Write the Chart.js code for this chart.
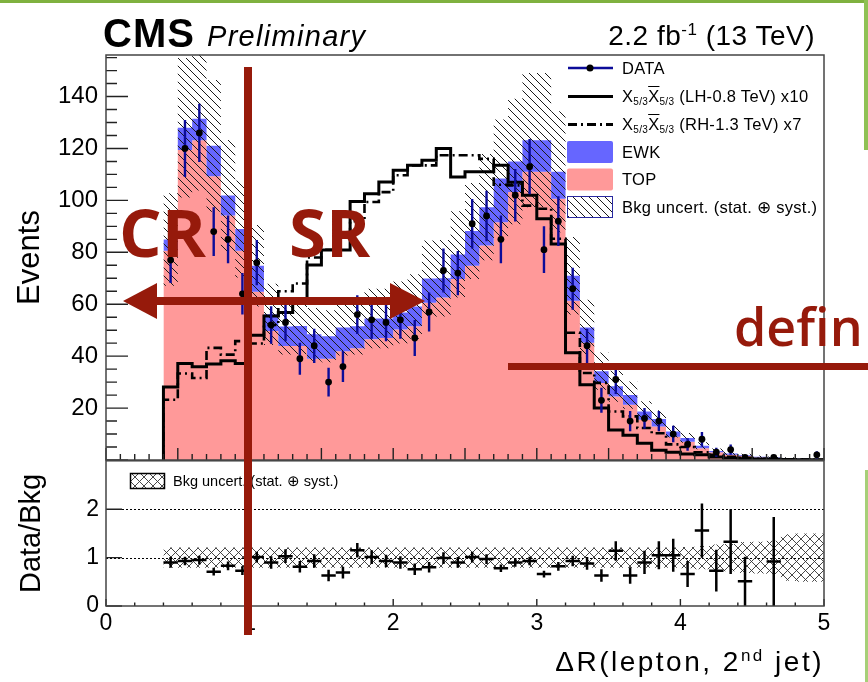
<!DOCTYPE html>
<html>
<head>
<meta charset="utf-8">
<script src="https://cdn.jsdelivr.net/npm/chart.js@4/dist/chart.umd.min.js"></script>
<style>
  body { margin: 0; background: #fff; }
  #page { position: relative; width: 868px; height: 682px; overflow: hidden; background: #fff;
          font-family: "Liberation Sans", Arial, Helvetica, sans-serif; color: #000; }
  #page canvas { position: absolute; left: 0; }
  .txt { position: absolute; white-space: nowrap; }
  .leg { position: absolute; left: 622px; height: 22px; line-height: 22px; font-size: 16.5px; white-space: nowrap; letter-spacing: 0.3px; }
  .leg sub { font-size: 10px; line-height: 0; vertical-align: -3px; }
  .ov { text-decoration: overline; }
  .ann { position: absolute; white-space: nowrap; color: #961a0b; font-family: "Open Sans", Lato, sans-serif; }
</style>
</head>
<body>
<div id="page">
  <canvas id="main" width="868" height="490" style="top:0"></canvas>
  <canvas id="ratio" width="868" height="242" style="top:440px"></canvas>

  <div class="txt" style="left:103px;top:13px;font-size:40px;line-height:40px;font-weight:bold;letter-spacing:1px;">CMS</div>
  <div class="txt" style="left:207px;top:22px;font-size:29px;line-height:29px;font-style:italic;letter-spacing:1.3px;">Preliminary</div>
  <div class="txt" style="right:53px;top:22px;font-size:28px;line-height:28px;letter-spacing:0.5px;">2.2 fb<sup style="font-size:17px;line-height:0;">-1</sup> (13 TeV)</div>

  <div class="leg" style="top:57px;">DATA</div>
  <div class="leg" style="top:85px;">X<sub>5/3</sub><span class="ov">X</span><sub>5/3</sub> (LH-0.8 TeV) x10</div>
  <div class="leg" style="top:113px;">X<sub>5/3</sub><span class="ov">X</span><sub>5/3</sub> (RH-1.3 TeV) x7</div>
  <div class="leg" style="top:141px;">EWK</div>
  <div class="leg" style="top:168px;">TOP</div>
  <div class="leg" style="top:196px;">Bkg uncert. (stat. &#8853; syst.)</div>

  <div class="txt" style="left:173px;top:472px;font-size:14.5px;line-height:18px;">Bkg uncert. (stat. &#8853; syst.)</div>

  <div class="txt" style="right:44px;top:648px;font-size:28px;line-height:28px;letter-spacing:2.5px;">&#916;R(lepton, 2<sup style="font-size:17px;line-height:0;">nd</sup> jet)</div>

  <svg width="868" height="682" style="position:absolute;left:0;top:0;">
    <defs>
      <pattern id="hatchP" width="8" height="8" patternUnits="userSpaceOnUse">
        <path d="M-8,0 L0,8 M0,0 L8,8 M8,0 L16,8" stroke="#1a1a1a" stroke-width="1"/>
      </pattern>
      <pattern id="xhatchP" width="9" height="9" patternUnits="userSpaceOnUse">
        <path d="M0,0 L9,9 M9,0 L0,9" stroke="#333" stroke-width="0.9"/>
      </pattern>
    </defs>
    <line x1="568" y1="68" x2="613" y2="68" stroke="#0c0c99" stroke-width="2.5"/>
    <circle cx="590" cy="68" r="3.5" fill="#000"/>
    <line x1="568" y1="96.5" x2="613" y2="96.5" stroke="#000" stroke-width="3"/>
    <line x1="568" y1="124.5" x2="613" y2="124.5" stroke="#000" stroke-width="3" stroke-dasharray="9 4 2 4"/>
    <rect x="567" y="141" width="46" height="22" rx="2" fill="#6666ff"/>
    <rect x="567" y="168.5" width="46" height="22" rx="2" fill="#ff9999"/>
    <rect x="567.5" y="196.5" width="45" height="21" fill="url(#hatchP)" stroke="#2a2aa0" stroke-width="1"/>
    <rect x="130.5" y="473.5" width="34" height="15" fill="url(#xhatchP)" stroke="#000" stroke-width="1.5"/>
  </svg>

  <div class="ann" style="left:119px;top:198px;font-size:67px;line-height:67px;font-weight:700;">CR</div>
  <div class="ann" style="left:289px;top:198px;font-size:67px;line-height:67px;font-weight:700;">SR</div>
  <div class="ann" style="left:734px;top:300px;font-size:52px;line-height:52px;font-weight:600;">defin</div>

  <svg width="868" height="682" style="position:absolute;left:0;top:0;">
    <rect x="244" y="67" width="8" height="568" fill="#961a0b"/>
    <rect x="150" y="297" width="245" height="8" fill="#961a0b"/>
    <polygon points="123,301 157,283 157,319" fill="#961a0b"/>
    <polygon points="425,301 390,283 390,319" fill="#961a0b"/>
    <rect x="508" y="363" width="360" height="7" fill="#961a0b"/>
    <rect x="0" y="0" width="868" height="3" fill="#7fb13f"/>
    <rect x="864" y="0" width="4" height="150" fill="#8fc155"/>
    <rect x="865" y="470" width="3" height="212" fill="#a6cf78"/>
  </svg>
</div>

<script>
// bin edges of dR(lepton, 2nd jet)
const binEdges = [0.4, 0.5, 0.6, 0.7, 0.8, 0.9, 1.0, 1.1, 1.2, 1.3, 1.4, 1.5, 1.6, 1.7, 1.8, 1.9,
  2.0, 2.1, 2.2, 2.3, 2.4, 2.5, 2.6, 2.7, 2.8, 2.9, 3.0, 3.1, 3.2, 3.3, 3.4, 3.5, 3.6, 3.7, 3.8, 3.9,
  4.0, 4.1, 4.2, 4.3, 4.4, 4.5, 4.6, 4.7, 4.8, 4.9, 5.0]

const topBkg = [80.6, 119.4, 123.2, 109.3, 94.2, 80.6, 64.8, 49.7, 43.9, 43.9,
  39.0, 39.0, 41.9, 43.0, 46.5, 47.0, 50.3, 51.5, 60.6, 62.6,
  69.7, 74.8, 82.6, 91.6, 103.2, 111.0, 111.0, 100.6, 61.3, 45.2,
  29.7, 24.5, 21.3, 15.5, 12.9, 9.0, 7.0, 4.5, 3.0, 2.0,
  1.5, 1.0, 0.8, 0.5, 0.4, 0.3]

const ewkBkg = [4.3, 8.6, 8.2, 11.7, 7.7, 8.4, 10.0, 6.4, 7.5, 7.7,
  9.4, 8.7, 9.1, 8.5, 8.0, 7.5, 6.5, 7.6, 9.3, 7.4,
  9.5, 13.4, 14.8, 16.8, 11.8, 12.2, 12.2, 10.4, 9.7, 5.8,
  4.5, 3.9, 3.7, 3.2, 2.9, 2.0, 1.5, 1.0, 0.5, 0.5,
  0.3, 0.3, 0.2, 0.2, 0.1, 0.1]

const dataCounts = [77, 120, 126, 88, 85, 64, 76, 52, 53, 39,
  44, 30, 36, 56, 54, 53, 54, 47, 57, 73,
  72, 91, 94, 85, 102, 113, 81, 92, 66, 44,
  23, 31, 15, 16, 15, 10, 6, 8, 3, 4,
  1, null, 1, null, null, 2]

const dataErr = [8.8, 11.0, 11.2, 9.4, 9.2, 8.0, 8.7, 7.2, 7.3, 6.2,
  6.6, 5.5, 6.0, 7.5, 7.3, 7.3, 7.3, 6.9, 7.5, 8.5,
  8.5, 9.5, 9.7, 9.2, 10.1, 10.6, 9.0, 9.6, 8.1, 6.6,
  4.8, 5.6, 3.9, 4.0, 3.9, 3.2, 2.4, 2.8, 1.7, 2.0,
  1.0, null, 1.0, null, null, 1.4]

const sigLH = [28.1, 37.2, 35.9, 37.0, 38.2, 37.2, 48.1, 55.5, 56.8, 61.6,
  75.1, 80.9, 80.9, 99.6, 102.6, 107.1, 111.6, 113.5, 115.5, 120.0,
  109.0, 111.0, 111.0, 113.5, 107.0, 102.0, 92.9, 83.2, 41.3, 29.0,
  20.0, 11.6, 9.5, 6.5, 3.8, 3.0, 2.3, 2.0, 1.2, 0.8,
  0.5, 0.4, 0.3, 0.2, 0.1, 0.1]

const sigRH = [23.2, 33.3, 31.6, 43.2, 40.6, 45.8, 44.9, 52.0, 65.0, 68.0,
  78.0, 81.0, 87.0, 92.0, 99.4, 103.2, 109.7, 113.5, 113.5, 117.4,
  117.4, 117.4, 116.0, 106.0, 105.8, 98.0, 96.8, 85.2, 49.0, 33.5,
  29.7, 18.7, 16.8, 12.3, 10.3, 6.0, 5.0, 3.0, 2.0, 1.2,
  0.8, 0.5, 0.4, 0.3, 0.2, 0.1]

// relative background uncertainty (stat + syst)
const bkgUnc = [0.21, 0.21, 0.21, 0.21, 0.21, 0.21, 0.21, 0.21, 0.21, 0.21,
  0.21, 0.21, 0.21, 0.21, 0.21, 0.21, 0.21, 0.21, 0.21, 0.21,
  0.21, 0.21, 0.21, 0.21, 0.21, 0.21, 0.21, 0.21, 0.21, 0.21,
  0.21, 0.21, 0.21, 0.21, 0.21, 0.21, 0.22, 0.24, 0.27, 0.28,
  0.32, 0.33, 0.35, 0.48, 0.50, 0.50]

const ratioVals = [0.90, 0.93, 0.95, 0.71, 0.83, 0.73, 1.01, 0.90, 1.03, 0.81,
  0.93, 0.63, 0.69, 1.15, 1.01, 0.93, 0.90, 0.76, 0.80, 0.99,
  0.90, 1.01, 0.97, 0.78, 0.90, 0.93, 0.66, 0.82, 0.93, 0.88,
  0.63, 1.14, 0.63, 0.90, 1.05, 1.05, 0.66, 1.56, 0.73, 1.33,
  0.51, null, 0.92, null, null, null]

const ratioErr = [0.11, 0.09, 0.09, 0.08, 0.09, 0.09, 0.11, 0.13, 0.14, 0.12,
  0.14, 0.12, 0.12, 0.15, 0.14, 0.13, 0.13, 0.12, 0.11, 0.12,
  0.11, 0.11, 0.10, 0.08, 0.09, 0.09, 0.07, 0.09, 0.11, 0.13,
  0.13, 0.20, 0.17, 0.24, 0.29, 0.34, 0.27, 0.56, 0.43, 0.67,
  0.51, null, 0.92, null, null, null]

const yTickLabels = [20, 40, 60, 80, 100, 120, 140]
const ratioTickLabels = [0, 1, 2]
const xTickLabels = [0, 1, 2, 3, 4, 5]

Chart.defaults.font.family = "'Liberation Sans', Arial, Helvetica, sans-serif"
Chart.defaults.color = "#000"

// histogram outline: two points per bin so the steps come out square
function histPoints(values) {
  const pts = []
  values.forEach((v, i) => {
    pts.push({ x: binEdges[i], y: v }, { x: binEdges[i + 1], y: v })
  })
  return pts
}

function centerPoints(values) {
  return values.map((v, i) => ({ x: (binEdges[i] + binEdges[i + 1]) / 2, y: v }))
}

function makePattern(size, cross, color, lw) {
  const c = document.createElement("canvas")
  c.width = size
  c.height = size
  const g = c.getContext("2d")
  g.strokeStyle = color
  g.lineWidth = lw
  g.beginPath()
  for (const o of [-size, 0, size]) {
    g.moveTo(o, 0); g.lineTo(o + size, size)
    if (cross) { g.moveTo(o + size, 0); g.lineTo(o, size) }
  }
  g.stroke()
  return g.createPattern(c, "repeat")
}

const hatch = makePattern(8, false, "#1a1a1a", 1)
const xhatch = makePattern(9, true, "#333", 0.9)

const bkgTotal = topBkg.map((v, i) => v + ewkBkg[i])
const bandHi = bkgTotal.map((v, i) => v * (1 + bkgUnc[i]))
const bandLo = bkgTotal.map((v, i) => v * (1 - bkgUnc[i]))
const ratioHi = bkgUnc.map(u => 1 + u)
const ratioLo = bkgUnc.map(u => 1 - u)

// vertical (and optional horizontal) error bars, drawn under the markers
const errorBars = {
  id: "errorBars",
  beforeDatasetDraw(chart, args) {
    const ds = chart.data.datasets[args.index]
    if (!ds.errors) return
    const { ctx, chartArea: a, scales: { x, y } } = chart
    ctx.save()
    ctx.beginPath()
    ctx.rect(a.left, a.top, a.right - a.left, a.bottom - a.top)
    ctx.clip()
    ctx.strokeStyle = ds.errorColor
    ctx.lineWidth = ds.errorWidth
    ctx.beginPath()
    ds.data.forEach((p, i) => {
      if (p.y == null) return
      const e = ds.errors[i] || 0
      const px = x.getPixelForValue(p.x)
      const py = y.getPixelForValue(p.y)
      ctx.moveTo(px, y.getPixelForValue(p.y - e))
      ctx.lineTo(px, y.getPixelForValue(p.y + e))
      if (ds.halfWidth) {
        ctx.moveTo(x.getPixelForValue(p.x - ds.halfWidth), py)
        ctx.lineTo(x.getPixelForValue(p.x + ds.halfWidth), py)
      }
    })
    ctx.stroke()
    ctx.restore()
  }
}

// ROOT style frame with inward ticks
function frameTicks(spec) {
  return {
    id: "frameTicks",
    beforeDatasetsDraw(chart) {
      if (!spec.dotted) return
      const { ctx, chartArea: a, scales: { y } } = chart
      ctx.save()
      ctx.strokeStyle = "#000"
      ctx.lineWidth = 1
      ctx.setLineDash([2, 2])
      ctx.beginPath()
      spec.dotted.forEach(v => {
        const py = Math.round(y.getPixelForValue(v)) + 0.5
        ctx.moveTo(a.left, py); ctx.lineTo(a.right, py)
      })
      ctx.stroke()
      ctx.restore()
    },
    afterDatasetsDraw(chart) {
      const { ctx, chartArea: a, scales: { x, y } } = chart
      ctx.save()
      ctx.strokeStyle = "#222"
      ctx.lineWidth = 1.4
      ctx.beginPath()
      for (let k = 0; k <= 5 * spec.xDiv; k++) {
        const px = x.getPixelForValue(k / spec.xDiv)
        const len = k % spec.xMajor === 0 ? spec.xLen[0] : spec.xLen[1]
        ctx.moveTo(px, a.bottom); ctx.lineTo(px, a.bottom - len)
      }
      for (let k = 0; k * spec.yStep <= spec.yMax; k++) {
        const py = y.getPixelForValue(k * spec.yStep)
        const len = k % spec.yMajor === 0 ? spec.yLen[0] : spec.yLen[1]
        ctx.moveTo(a.left, py); ctx.lineTo(a.left + len, py)
      }
      ctx.stroke()
      ctx.strokeStyle = "#444"
      ctx.lineWidth = 1.5
      ctx.strokeRect(a.left, a.top, a.right - a.left, a.bottom - a.top)
      ctx.restore()
    }
  }
}

const plain = { borderWidth: 0, borderColor: "transparent", pointRadius: 0 }

new Chart(document.getElementById("main"), {
  type: "line",
  data: {
    datasets: [
      { label: "DATA", data: centerPoints(dataCounts), showLine: false, pointRadius: 3.4,
        pointBackgroundColor: "#000", pointBorderWidth: 0,
        errors: dataErr, errorColor: "#0c0c99", errorWidth: 2.4, order: 0 },
      { label: "LH-0.8 TeV x10", data: [{ x: binEdges[0], y: 0 }, ...histPoints(sigLH)],
        borderColor: "#000", borderWidth: 3, pointRadius: 0, fill: false, order: 1 },
      { label: "RH-1.3 TeV x7", data: [{ x: binEdges[0], y: 0 }, ...histPoints(sigRH)],
        borderColor: "#000", borderWidth: 2.6, borderDash: [9, 4, 2, 4], pointRadius: 0, fill: false, order: 2 },
      { label: "Bkg uncert.", data: histPoints(bandHi), ...plain, backgroundColor: hatch, fill: 4, order: 3 },
      { label: "Bkg uncert. low", data: histPoints(bandLo), ...plain, fill: false, order: 4 },
      { label: "EWK", data: histPoints(bkgTotal), ...plain, backgroundColor: "#6666ff", fill: 6, order: 5 },
      { label: "TOP", data: histPoints(topBkg), ...plain, backgroundColor: "#ff9999", fill: "origin", order: 6 }
    ]
  },
  options: {
    responsive: false,
    animation: false,
    events: [],
    layout: { padding: { left: 0, right: 44, top: 55, bottom: 30 } },
    plugins: { legend: { display: false }, tooltip: { enabled: false } },
    scales: {
      x: { type: "linear", min: 0, max: 5, display: false },
      y: {
        min: 0, max: 156,
        afterFit: s => { s.width = 106 },
        afterBuildTicks: s => { s.ticks = yTickLabels.map(v => ({ value: v })) },
        grid: { display: false, drawTicks: false },
        border: { display: false },
        ticks: { font: { size: 24 }, padding: 8, color: "#000" },
        title: { display: true, text: "Events", font: { size: 31 }, color: "#000", padding: { top: 12, bottom: 0 } }
      }
    }
  },
  plugins: [errorBars, frameTicks({ xDiv: 10, xMajor: 5, xLen: [12, 6], yStep: 5, yMajor: 4, yMax: 155, yLen: [22, 11] })]
})

new Chart(document.getElementById("ratio"), {
  type: "line",
  data: {
    datasets: [
      { label: "Data/Bkg", data: centerPoints(ratioVals), showLine: false, pointRadius: 0,
        errors: ratioErr, errorColor: "#000", errorWidth: 2.5, halfWidth: 0.05, order: 0 },
      { label: "Bkg uncert.", data: histPoints(ratioHi), ...plain, backgroundColor: xhatch, fill: 2, order: 1 },
      { label: "Bkg uncert. low", data: histPoints(ratioLo), ...plain, fill: false, order: 2 }
    ]
  },
  options: {
    responsive: false,
    animation: false,
    events: [],
    layout: { padding: { left: 0, right: 44, top: 20, bottom: 0 } },
    plugins: { legend: { display: false }, tooltip: { enabled: false } },
    scales: {
      x: {
        type: "linear", min: 0, max: 5,
        afterFit: s => { s.height = 76 },
        afterBuildTicks: s => { s.ticks = xTickLabels.map(v => ({ value: v })) },
        grid: { display: false, drawTicks: false },
        border: { display: false },
        ticks: { font: { size: 23 }, padding: 4, maxRotation: 0, autoSkip: false, color: "#000" }
      },
      y: {
        min: 0, max: 3,
        afterFit: s => { s.width = 106 },
        afterBuildTicks: s => { s.ticks = ratioTickLabels.map(v => ({ value: v })) },
        grid: { display: false, drawTicks: false },
        border: { display: false },
        ticks: { font: { size: 23 }, padding: 7, color: "#000" },
        title: { display: true, text: "Data/Bkg", font: { size: 29 }, color: "#000", padding: { top: 15, bottom: 0 } }
      }
    }
  },
  plugins: [errorBars, frameTicks({ xDiv: 5, xMajor: 5, xLen: [7, 3.5], yStep: 1, yMajor: 1, yMax: 2, yLen: [16, 16], dotted: [1, 2] })]
})
</script>
</body>
</html>
